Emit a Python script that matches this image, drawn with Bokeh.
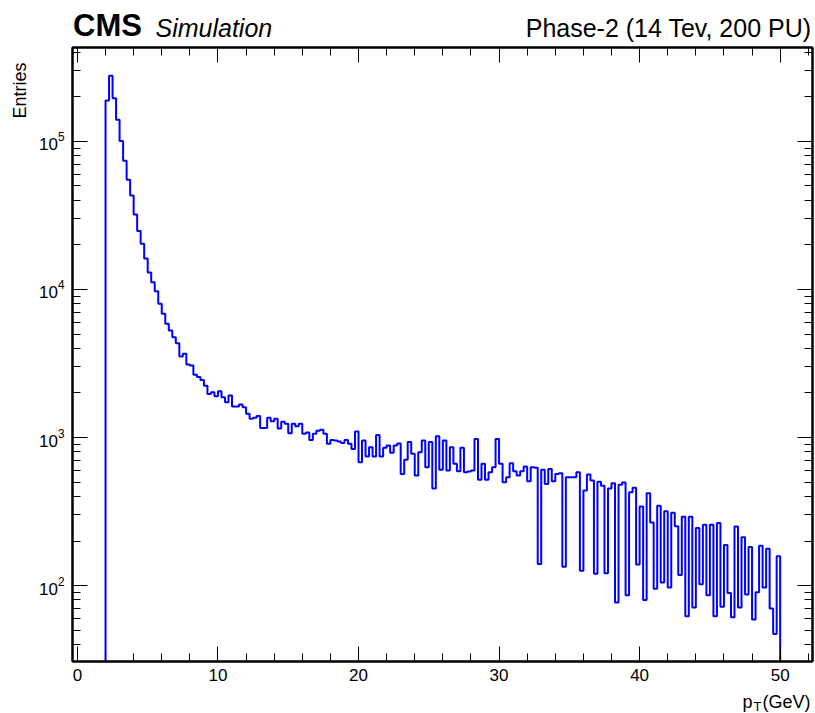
import numpy as np
from bokeh.plotting import figure
from bokeh.layouts import column
from bokeh.core.properties import value
from bokeh.models import (Range1d, LinearAxis, LogAxis, Title, SingleIntervalTicker,
                          LogTicker, CustomJSTickFormatter)
from bokeh.embed import file_html
from bokeh.resources import INLINE

# ---- data ----
x_min, x_max = 2.0, 50.0
counts = [
    189000, 278000, 196000, 140000, 100500, 74100, 55100, 43200, 32100, 24800,
    20400, 16200, 13000, 11200, 9730, 8000, 6850, 5860, 5280, 4760,
    4340, 3520, 3680, 3110, 3060, 2650, 2560, 2450, 2240, 1970,
    2020, 1900, 2050, 1870, 1730, 1920, 1620, 1620, 1670, 1600,
    1450, 1340, 1360, 1400, 1160, 1160, 1360, 1290, 1340, 1150,
    1280, 1240, 1070, 1240, 1190, 1240, 1060, 1080, 964, 1060,
    1110, 1130, 1060, 906, 964, 955, 940, 920, 964, 906,
    838, 1100, 681, 955, 745, 861, 745, 1040, 745, 853,
    883, 789, 883, 912, 568, 708, 931, 776, 553, 794,
    955, 631, 931, 452, 1020, 605, 955, 598, 861, 664,
    592, 853, 582, 589, 598, 979, 518, 664, 518, 582,
    630, 979, 664, 499, 540, 670, 592, 553, 592, 637,
    507, 630, 624, 140, 605, 486, 614, 507, 568, 574,
    134, 540, 540, 540, 582, 126, 439, 562, 512, 120,
    502, 472, 121, 452, 492, 77, 480, 497, 86, 427,
    457, 139, 342, 80, 421, 267, 95, 346, 105, 318,
    97, 310, 252, 118, 292, 62, 292, 71, 245, 102,
    258, 86, 258, 62, 265, 72, 188, 89, 61, 251,
    71, 212, 87, 182, 59, 90, 186, 97, 177, 70,
    47, 158,
]

FONT = "Liberation Sans"
W = 815
BL, BR = 72, 3                      # frame borders (column aligns all frames to these)
HEAD_H, FOOT_H = 46, 25
MAIN_H = 713 - HEAD_H - FOOT_H

# ---- build step outline of the histogram ----
floor = 1.0
edges = np.linspace(x_min, x_max, len(counts) + 1)
xs = np.repeat(edges, 2)
ys = np.concatenate([[floor], np.repeat(np.array(counts, dtype=float), 2), [floor]])


def strip(h):
    # frame gets aligned to the main plot's frame, so map data x == page pixel x
    f = figure(width=W, height=h, x_range=Range1d(BL, W - BR), y_range=Range1d(0, h),
               x_axis_location=None, y_axis_location=None, output_backend="svg",
               toolbar_location=None, min_border=0, min_border_left=BL,
               min_border_right=BR, title=None)
    f.grid.visible = False
    f.outline_line_color = None
    f.background_fill_color = "white"
    f.border_fill_color = "white"
    return f


def txt(f, x, y, s, size, align="left", style="normal"):
    f.text(x=[x], y=[y], text=[s], text_font=value(FONT), text_font_style=style,
           text_font_size=size, text_color="black", text_baseline="middle", text_align=align)


# ---- header: experiment tag and run conditions ----
head = strip(HEAD_H)
txt(head, 72.5, 20.8, "CMS", "31px", style="bold")
txt(head, 155, 18.8, "Simulation", "25px", style="italic")
txt(head, 811, 18.8, "Phase-2 (14 Tev, 200 PU)", "25px", align="right")

# ---- main histogram ----
p = figure(width=W, height=MAIN_H, title=None,
           x_range=Range1d(-0.35, 52.3), y_range=Range1d(30.7, 431000),
           y_axis_type="log", output_backend="svg", toolbar_location=None,
           min_border_left=BL, min_border_right=BR, min_border_top=1, min_border_bottom=27)

p.line(xs, ys, line_color="#0000ff", line_width=2)

p.grid.visible = False
p.background_fill_color = "white"
p.border_fill_color = "white"
p.outline_line_color = "black"
p.outline_line_width = 2

top = LinearAxis(ticker=SingleIntervalTicker(interval=10, num_minor_ticks=5),
                 formatter=CustomJSTickFormatter(code="return ''"))
right = LogAxis(ticker=LogTicker(num_minor_ticks=10),
                formatter=CustomJSTickFormatter(code="return ''"))
p.add_layout(top, "above")
p.add_layout(right, "right")

p.below[0].ticker = SingleIntervalTicker(interval=10, num_minor_ticks=5)
for ax in list(p.xaxis) + list(p.yaxis):
    ax.axis_line_color = "black"
    ax.axis_line_width = 2
    ax.major_tick_in = 15
    ax.major_tick_out = 0
    ax.minor_tick_in = 8
    ax.minor_tick_out = 0
    ax.major_tick_line_color = "black"
    ax.minor_tick_line_color = "black"
    ax.major_label_text_font = FONT
    ax.major_label_text_font_size = "17px"
    ax.major_label_text_color = "black"

for ax in (top, right):
    ax.major_label_standoff = 0

p.below[0].major_label_standoff = 7
p.left[0].major_label_standoff = 8

p.add_layout(Title(text="Entries", align="right", offset=15, standoff=11,
                   text_font=FONT, text_font_size="18px", text_font_style="normal",
                   text_color="black"), "left")

# ---- footer: x-axis title p_T(GeV) ----
foot = strip(FOOT_H)
txt(foot, 742, 11.3, "p", "18px")
txt(foot, 753, 6.6, "T", "13px")
txt(foot, 810, 11.3, "(GeV)", "18px", align="right")

layout = column(head, p, foot, spacing=0)
open("out.html", "w").write(file_html(layout, INLINE))
